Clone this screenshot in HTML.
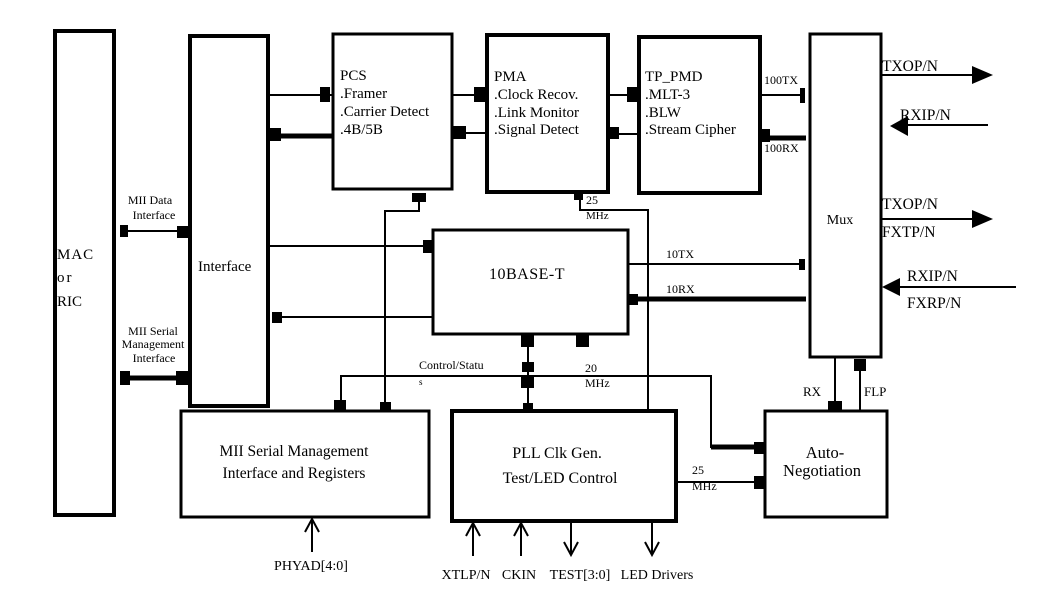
<!DOCTYPE html>
<html><head><meta charset="utf-8"><style>
html,body{margin:0;padding:0;background:#fff;}
svg{display:block;}
text{font-family:"Liberation Serif",serif;fill:#000;}
</style></head><body>
<svg width="1048" height="610" viewBox="0 0 1048 610" xmlns="http://www.w3.org/2000/svg">
<g fill="none" stroke="#000">
<rect x="55" y="31" width="59" height="484" stroke-width="4"/>
<rect x="190" y="36" width="78" height="370" stroke-width="4"/>
<rect x="333" y="34" width="119" height="155" stroke-width="3"/>
<rect x="487" y="35" width="121" height="157" stroke-width="4"/>
<rect x="639" y="37" width="121" height="156" stroke-width="4"/>
<rect x="810" y="34" width="71" height="323" stroke-width="3"/>
<rect x="433" y="230" width="195" height="104" stroke-width="3"/>
<rect x="181" y="411" width="248" height="106" stroke-width="3"/>
<rect x="452" y="411" width="224" height="110" stroke-width="4"/>
<rect x="765" y="411" width="122" height="106" stroke-width="3"/>
<g stroke-width="2">
<line x1="268" y1="95" x2="332" y2="95"/>
<line x1="452" y1="95" x2="487" y2="95"/>
<line x1="608" y1="95" x2="639" y2="95"/>
<line x1="760" y1="95" x2="804" y2="95"/>
<line x1="608" y1="134" x2="639" y2="134"/>
<line x1="452" y1="133" x2="487" y2="133"/>
<line x1="268" y1="246" x2="433" y2="246"/>
<line x1="278" y1="317" x2="433" y2="317"/>
<line x1="628" y1="264" x2="803" y2="264"/>
<line x1="120" y1="231" x2="188" y2="231"/>
<polyline points="580,193 580,210 648,210 648,411"/>
<polyline points="419,195 419,211 385,211 385,411"/>
<polyline points="341,411 341,376 711,376 711,447 764,447"/>
<line x1="528" y1="340" x2="528" y2="411"/>
<line x1="676" y1="482" x2="764" y2="482"/>
<line x1="835" y1="358" x2="835" y2="411"/>
<line x1="860" y1="362" x2="860" y2="411"/>
<line x1="881" y1="75" x2="975" y2="75"/>
<line x1="905" y1="125" x2="988" y2="125"/>
<line x1="881" y1="219" x2="975" y2="219"/>
<line x1="897" y1="287" x2="1016" y2="287"/>
<line x1="312" y1="519" x2="312" y2="552"/>
<line x1="473" y1="523" x2="473" y2="556"/>
<line x1="521" y1="523" x2="521" y2="556"/>
<line x1="571" y1="521" x2="571" y2="554"/>
<line x1="652" y1="521" x2="652" y2="554"/>
<polyline points="305,532 312,519 319,532"/>
<polyline points="466,536 473,523 480,536"/>
<polyline points="514,536 521,523 528,536"/>
<polyline points="564,542 571,555 578,542"/>
<polyline points="645,542 652,555 659,542"/>
</g>
<g stroke-width="5">
<line x1="268" y1="136" x2="333" y2="136"/>
<line x1="760" y1="138" x2="806" y2="138"/>
<line x1="628" y1="299" x2="806" y2="299"/>
<line x1="122" y1="378" x2="188" y2="378"/>
<line x1="711" y1="447" x2="760" y2="447"/>
</g>
</g>
<g fill="#000">
<rect x="320" y="87" width="10" height="15"/>
<rect x="269" y="128" width="12" height="13"/>
<rect x="474" y="87" width="12" height="15"/>
<rect x="452" y="126" width="14" height="13"/>
<rect x="627" y="87" width="12" height="15"/>
<rect x="609" y="127" width="10" height="12"/>
<rect x="800" y="88" width="5" height="15"/>
<rect x="758" y="129" width="12" height="13"/>
<rect x="574" y="192" width="9" height="8"/>
<rect x="412" y="193" width="14" height="9"/>
<rect x="423" y="240" width="10" height="13"/>
<rect x="272" y="312" width="10" height="11"/>
<rect x="799" y="259" width="6" height="11"/>
<rect x="628" y="294" width="10" height="11"/>
<rect x="120" y="225" width="8" height="12"/>
<rect x="177" y="226" width="11" height="12"/>
<rect x="120" y="371" width="10" height="14"/>
<rect x="176" y="371" width="12" height="14"/>
<rect x="521" y="335" width="13" height="12"/>
<rect x="576" y="335" width="13" height="12"/>
<rect x="522" y="362" width="12" height="10"/>
<rect x="521" y="377" width="13" height="11"/>
<rect x="523" y="403" width="10" height="8"/>
<rect x="334" y="400" width="12" height="11"/>
<rect x="380" y="402" width="11" height="9"/>
<rect x="754" y="442" width="10" height="12"/>
<rect x="754" y="476" width="10" height="13"/>
<rect x="828" y="401" width="14" height="10"/>
<rect x="854" y="359" width="12" height="12"/>
<polygon points="972,66 993,75 972,84"/>
<polygon points="908,116 890,126 908,136"/>
<polygon points="972,210 993,219 972,228"/>
<polygon points="900,278 882,287 900,296"/>
</g>
<g font-size="13">
<text x="57" y="259" font-size="15" letter-spacing="1">MAC</text>
<text x="57" y="282" font-size="15" letter-spacing="2">or</text>
<text x="57" y="306" font-size="15">RIC</text>
<text x="198" y="271" font-size="15">Interface</text>
<text x="150" y="204" font-size="12" text-anchor="middle">MII Data</text>
<text x="154" y="219" font-size="12" text-anchor="middle">Interface</text>
<text x="153" y="335" font-size="12" text-anchor="middle">MII Serial</text>
<text x="153" y="348" font-size="12" text-anchor="middle">Management</text>
<text x="154" y="362" font-size="12" text-anchor="middle">Interface</text>
<text x="340" y="80" font-size="15">PCS</text>
<text x="340" y="98" font-size="15">.Framer</text>
<text x="340" y="116" font-size="15">.Carrier Detect</text>
<text x="340" y="134" font-size="15">.4B/5B</text>
<text x="494" y="81" font-size="15">PMA</text>
<text x="494" y="99" font-size="15">.Clock  Recov.</text>
<text x="494" y="117" font-size="15">.Link Monitor</text>
<text x="494" y="134" font-size="15">.Signal Detect</text>
<text x="645" y="81" font-size="15">TP_PMD</text>
<text x="645" y="99" font-size="15">.MLT-3</text>
<text x="645" y="117" font-size="15">.BLW</text>
<text x="645" y="134" font-size="15">.Stream Cipher</text>
<text x="764" y="84" font-size="12">100TX</text>
<text x="764" y="152" font-size="12">100RX</text>
<text x="840" y="224" font-size="14" text-anchor="middle">Mux</text>
<text x="882" y="71" font-size="15.5">TXOP/N</text>
<text x="900" y="120" font-size="15.5">RXIP/N</text>
<text x="882" y="209" font-size="15.5">TXOP/N</text>
<text x="882" y="237" font-size="15.5">FXTP/N</text>
<text x="907" y="281" font-size="15.5">RXIP/N</text>
<text x="907" y="308" font-size="15.5">FXRP/N</text>
<text x="586" y="204" font-size="12">25</text>
<text x="586" y="219" font-size="11">MHz</text>
<text x="527" y="279" font-size="16" text-anchor="middle" letter-spacing="0.5">10BASE-T</text>
<text x="666" y="258" font-size="12">10TX</text>
<text x="666" y="293" font-size="12">10RX</text>
<text x="419" y="369" font-size="12">Control/Statu</text>
<text x="419" y="385" font-size="9">s</text>
<text x="585" y="372" font-size="12">20</text>
<text x="585" y="387" font-size="12">MHz</text>
<text x="803" y="396" font-size="13">RX</text>
<text x="864" y="396" font-size="13">FLP</text>
<text x="294" y="456" font-size="15.5" text-anchor="middle">MII Serial Management</text>
<text x="294" y="478" font-size="15.5" text-anchor="middle">Interface and Registers</text>
<text x="557" y="458" font-size="16" text-anchor="middle">PLL Clk Gen.</text>
<text x="560" y="483" font-size="16" text-anchor="middle">Test/LED Control</text>
<text x="825" y="458" font-size="16.5" text-anchor="middle">Auto-</text>
<text x="822" y="476" font-size="16.5" text-anchor="middle">Negotiation</text>
<text x="692" y="474" font-size="12">25</text>
<text x="692" y="490" font-size="12">MHz</text>
<text x="311" y="570" font-size="14" text-anchor="middle">PHYAD[4:0]</text>
<text x="466" y="579" font-size="14" text-anchor="middle">XTLP/N</text>
<text x="519" y="579" font-size="14" text-anchor="middle">CKIN</text>
<text x="580" y="579" font-size="14" text-anchor="middle">TEST[3:0]</text>
<text x="657" y="579" font-size="14" text-anchor="middle">LED Drivers</text>
</g>
</svg>
</body></html>
